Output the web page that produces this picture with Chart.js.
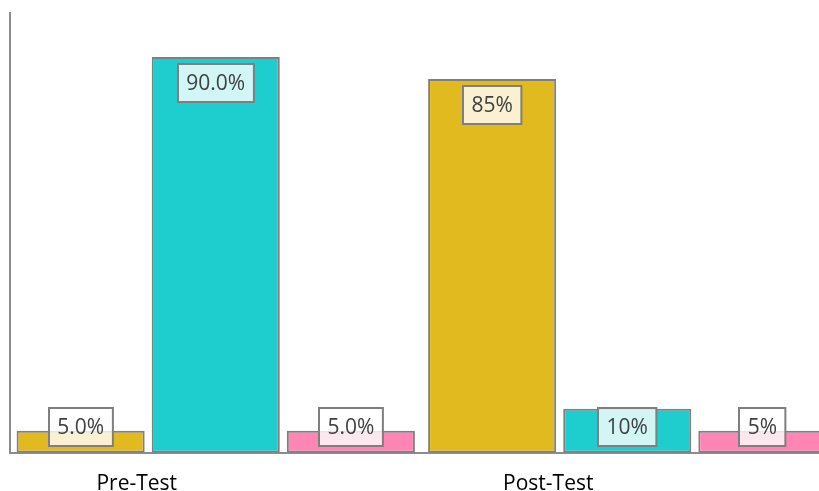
<!DOCTYPE html>
<html>
<head>
<meta charset="utf-8">
<script src="https://cdn.jsdelivr.net/npm/chart.js@4/dist/chart.umd.min.js"></script>
<style>
  html, body { margin: 0; padding: 0; background: #fff; overflow: hidden; }
  #wrap { width: 840px; height: 491px; position: relative; }
</style>
</head>
<body>
<div id="wrap"><canvas id="chart"></canvas></div>
<script>
const categories = ["Pre-Test", "Post-Test"]
const seriesA = [5, 85]
const seriesB = [90, 10]
const seriesC = [5, 5]
// decimals shown in the data labels, per category
const labelDecimals = [1, 0]

const colors = ['#E0BA1E', '#1ECDCD', '#FF85B4']
const edge = '#7f7f7f'

const labelBoxes = {
  id: 'labelBoxes',
  afterDatasetsDraw(chart) {
    const ctx = chart.ctx
    const base = chart.scales.y.getPixelForValue(0)
    ctx.save()
    ctx.font = '21px "Open Sans"'
    ctx.textAlign = 'center'
    ctx.textBaseline = 'middle'
    chart.data.datasets.forEach((ds, i) => {
      chart.getDatasetMeta(i).data.forEach((bar, j) => {
        const text = ds.data[j].toFixed(labelDecimals[j]) + '%'
        const w = ctx.measureText(text).width + 17
        const h = 38
        const cy = Math.min(bar.y + 26, base - 26)
        const x0 = Math.round(bar.x - w / 2), y0 = Math.round(cy - h / 2)
        ctx.fillStyle = 'rgba(255,255,255,0.8)'
        ctx.fillRect(x0, y0, w, h)
        ctx.strokeStyle = edge
        ctx.lineWidth = 2
        ctx.strokeRect(x0, y0, w, h)
        ctx.fillStyle = '#404040'
        ctx.fillText(text, bar.x, cy + 1)
      })
    })
    ctx.restore()
  }
}

new Chart(document.getElementById('chart'), {
  type: 'bar',
  data: {
    labels: categories,
    datasets: [seriesA, seriesB, seriesC].map((d, i) => ({
      data: d,
      backgroundColor: colors[i],
      borderColor: edge,
      borderWidth: 2,
      borderSkipped: false,
      categoryPercentage: 0.985,
      barPercentage: 0.948
    }))
  },
  options: {
    responsive: true,
    maintainAspectRatio: false,
    animation: false,
    layout: { padding: { left: 10, top: 13, right: 7, bottom: -25 } },
    plugins: { legend: { display: false }, tooltip: { enabled: false } },
    scales: {
      x: {
        grid: { display: false, drawTicks: false },
        border: { display: true, color: '#8c8c8c', width: 2 },
        ticks: { color: '#000', font: { family: 'Open Sans', size: 21 }, padding: 19, labelOffset: -79 }
      },
      y: {
        min: 0,
        max: 100,
        grid: { display: false, drawTicks: false },
        border: { display: true, color: '#8c8c8c', width: 2 },
        ticks: { display: false }
      }
    }
  },
  plugins: [labelBoxes]
})
</script>
</body>
</html>
